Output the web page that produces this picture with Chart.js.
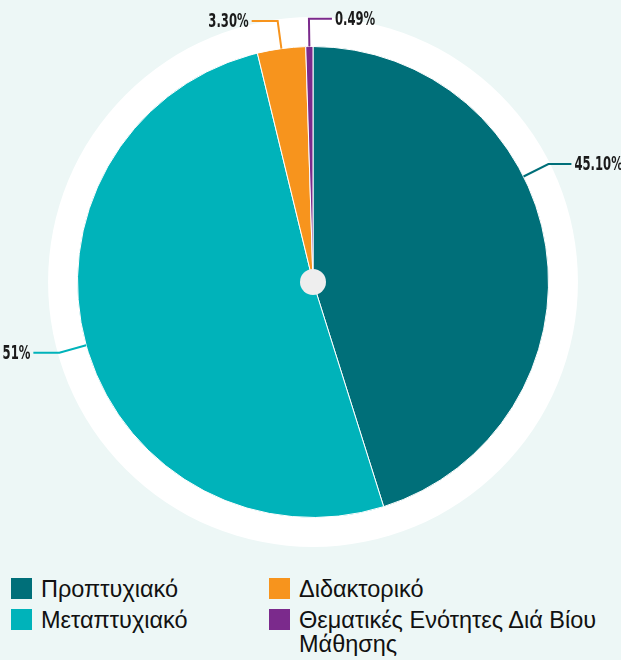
<!DOCTYPE html>
<html>
<head>
<meta charset="utf-8">
<script src="https://cdn.jsdelivr.net/npm/chart.js@4"></script>
<style>
    body { margin: 0; background: #edf7f6; font-family: "Liberation Sans", Arial, sans-serif; }
    #wrap { position: relative; width: 621px; height: 560px; }
    #legend { display: grid; grid-template-columns: 258px 350px; row-gap: 7px; padding: 17px 0 0 11px; }
    .item { display: flex; align-items: flex-start; font-size: 23.5px; color: #111111; line-height: 24px; }
    .box { flex: none; width: 21px; height: 21px; margin: 1px 9px 0 0; }
</style>
</head>
<body>
<div id="wrap"><canvas id="pieChart"></canvas></div>
<div id="legend"></div>
<script>
const categories = ['Προπτυχιακό', 'Μεταπτυχιακό', 'Διδακτορικό', 'Θεματικές Ενότητες Διά Βίου Μάθησης'];
const shares = [45.10, 51, 3.30, 0.49];
const valueLabels = ['45.10%', '51%', '3.30%', '0.49%'];
const colors = ['#006f79', '#00b3ba', '#f7941d', '#7b2a8c'];
// where along each slice the leader line leaves (0 = start, 1 = end)
const labelAt = [0.39, 0.5, 0.5, 0.5];

const ringPlugin = {
    id: 'ring',
    beforeDatasetsDraw(chart) {
        const arc = chart.getDatasetMeta(0).data[0];
        const ctx = chart.ctx;
        ctx.save();
        ctx.fillStyle = '#ffffff';
        ctx.beginPath();
        ctx.arc(arc.x, arc.y, arc.outerRadius * 1.125, 0, Math.PI * 2);
        ctx.fill();
        ctx.restore();
    },
    afterDatasetsDraw(chart) {
        const meta = chart.getDatasetMeta(0);
        const ctx = chart.ctx;
        meta.data.forEach((arc, i) => {
            const a = arc.startAngle + (arc.endAngle - arc.startAngle) * labelAt[i];
            const r = arc.outerRadius;
            const x1 = arc.x + Math.cos(a) * r, y1 = arc.y + Math.sin(a) * r;
            const x2 = arc.x + Math.cos(a) * r * 1.118, y2 = arc.y + Math.sin(a) * r * 1.118;
            const right = Math.cos(a) > -0.05;
            const x3 = x2 + (right ? 23 : -26);
            ctx.save();
            ctx.strokeStyle = colors[i];
            ctx.lineWidth = 2;
            ctx.beginPath();
            ctx.moveTo(x1, y1);
            ctx.lineTo(x2, y2);
            ctx.lineTo(x3, y2);
            ctx.stroke();
            ctx.fillStyle = '#1a1a1a';
            ctx.font = 'bold 19px "Liberation Sans Narrow", "DejaVu Sans Condensed", sans-serif';
            ctx.textBaseline = 'middle';
            ctx.translate(x3 + (right ? 3 : -3), y2);
            ctx.scale(0.68, 1);
            ctx.textAlign = right ? 'left' : 'right';
            ctx.fillText(valueLabels[i], 0, 1);
            ctx.restore();
        });
        const c = meta.data[0];
        ctx.save();
        ctx.fillStyle = '#eeeeee';
        ctx.beginPath();
        ctx.arc(c.x, c.y, 13, 0, Math.PI * 2);
        ctx.fill();
        ctx.restore();
    }
};

new Chart(document.getElementById('pieChart'), {
    type: 'pie',
    data: {
        labels: categories,
        datasets: [{
            data: shares,
            backgroundColor: colors,
            borderColor: '#ffffff',
            borderWidth: 1,
            hoverOffset: 0
        }]
    },
    options: {
        responsive: true,
        maintainAspectRatio: false,
        animation: false,
        layout: { padding: { top: 46, bottom: 42, left: 5, right: 0 } },
        plugins: {
            legend: { display: false },
            tooltip: { enabled: false }
        }
    },
    plugins: [ringPlugin]
});

// legend in two columns: first column holds items 0,1 and second holds 2,3
const legendBox = document.getElementById('legend');
[0, 2, 1, 3].forEach(i => {
    const d = document.createElement('div');
    d.className = 'item';
    d.innerHTML = '<span class="box" style="background:' + colors[i] + '"></span><span>' + categories[i] + '</span>';
    legendBox.appendChild(d);
});
</script>
</body>
</html>
